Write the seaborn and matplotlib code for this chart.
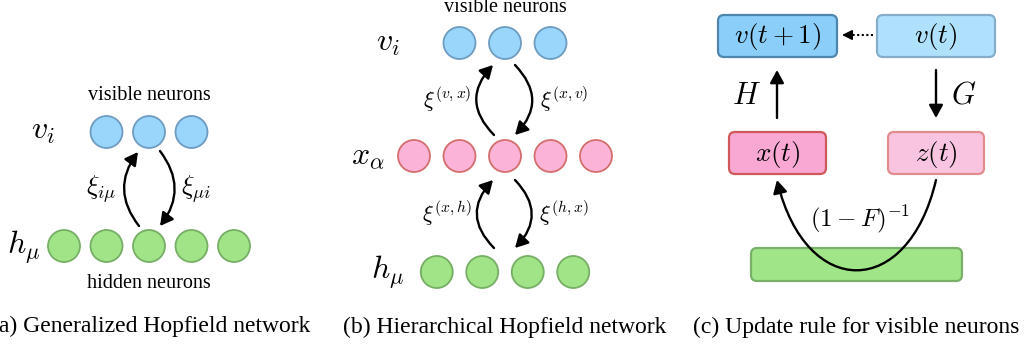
import numpy as np
import matplotlib
matplotlib.use("Agg")
import matplotlib.pyplot as plt
import seaborn as sns
from matplotlib.patches import Circle, FancyBboxPatch, FancyArrowPatch
from matplotlib.path import Path

sns.set_theme(style="white")
plt.rcParams["font.family"] = ["Liberation Serif", "DejaVu Serif"]
plt.rcParams["mathtext.fontset"] = "cm"
plt.rcParams["text.color"] = "black"

# Layer sizes for the two network diagrams
layers_a = [3, 5]            # visible, hidden
layers_b = [3, 5, 4]         # visible, intermediate, hidden
layer_labels_a = [r"$v_i$", r"$h_\mu$"]
layer_labels_b = [r"$v_i$", r"$x_\alpha$", r"$h_\mu$"]
weights_a = [r"$\xi_{i\mu}$", r"$\xi_{\mu i}$"]
weights_b = [[r"$\xi^{(v,x)}$", r"$\xi^{(x,v)}$"], [r"$\xi^{(x,h)}$", r"$\xi^{(h,x)}$"]]
box_labels = [r"$v(t+1)$", r"$v(t)$", r"$x(t)$", r"$z(t)$"]
map_labels = [r"$H$", r"$G$", r"$(1-F)^{-1}$"]
captions = ["(a) Generalized Hopfield network",
            "(b) Hierarchical Hopfield network",
            "(c) Update rule for visible neurons"]

BLUE = ("#9AD5FB", "#6E9CC0")
PINK = ("#FBB3D8", "#D46E6E")
GREEN = ("#A0E487", "#77AE66")

fig = plt.figure(figsize=(10.26, 3.48), dpi=100)
ax = fig.add_axes([0, 0, 1, 1])
ax.set_xlim(0, 1026)
ax.set_ylim(348, 0)
ax.axis("off")

R = 16
LW = 1.7
CAP = 17
SMALL = 14.5
LAYER = 23


def layer(n, xc, y, colors, gap):
    xs = xc + (np.arange(n) - (n - 1) / 2) * gap
    for x in xs:
        ax.add_patch(Circle((x, y), R, facecolor=colors[0], edgecolor=colors[1],
                            lw=1.3, zorder=3))


def curved(p0, p1, rad):
    ax.add_patch(FancyArrowPatch(p0, p1, connectionstyle=f"arc3,rad={rad}",
                                 arrowstyle="-|>,head_length=0.55,head_width=0.3",
                                 mutation_scale=14, lw=LW, color="black",
                                 shrinkA=0, shrinkB=0, zorder=2))


def straight(p0, p1):
    ax.add_patch(FancyArrowPatch(p0, p1, arrowstyle="-|>,head_length=0.55,head_width=0.3",
                                 mutation_scale=14, lw=LW, color="black",
                                 shrinkA=0, shrinkB=0, zorder=2))


# ---- (a) generalized Hopfield network
layer(layers_a[0], 149, 132, BLUE, 42.5)
layer(layers_a[1], 149, 246, GREEN, 42.5)
ax.text(149, 96, "visible neurons", ha="center", va="center", fontsize=SMALL)
ax.text(149, 283, "hidden neurons", ha="center", va="center", fontsize=SMALL)
ax.text(43, 131, layer_labels_a[0], ha="center", va="center", fontsize=LAYER)
ax.text(24, 247, layer_labels_a[1], ha="center", va="center", fontsize=LAYER)
curved((139, 226), (138, 152), -0.38)
curved((160, 151), (160, 226), -0.38)
ax.text(101, 189, weights_a[0], ha="center", va="center", fontsize=19)
ax.text(196, 189, weights_a[1], ha="center", va="center", fontsize=19)
ax.text(151, 326, captions[0], ha="center", va="center", fontsize=CAP)

# ---- (b) hierarchical Hopfield network
layer(layers_b[0], 505, 43, BLUE, 45.5)
layer(layers_b[1], 505, 156, PINK, 45.5)
layer(layers_b[2], 505, 272, GREEN, 45.5)
ax.text(505, 8, "visible neurons", ha="center", va="center", fontsize=SMALL)
for lbl, (x, y) in zip(layer_labels_b, [(388, 44), (368, 158), (388, 272)]):
    ax.text(x, y, lbl, ha="center", va="center", fontsize=LAYER)
for (top, bot), wl in zip([(65, 135), (180, 248)], weights_b):
    curved((494, bot), (493, top), -0.48)
    curved((515, top), (515, bot), -0.48)
    mid = (top + bot) / 2
    ax.text(447, mid, wl[0], ha="center", va="center", fontsize=16)
    ax.text(564, mid, wl[1], ha="center", va="center", fontsize=16)
ax.text(505, 327, captions[1], ha="center", va="center", fontsize=CAP)

# ---- (c) update rule for visible neurons
boxes = [
    (718, 15, 119, 42, "#8CCEFA", "#4E85AC"),
    (877, 15, 118, 42, "#B0E1FC", "#86AECB"),
    (729, 132, 97, 42, "#F9A8D4", "#D0585A"),
    (888, 132, 96, 42, "#F9C4DF", "#E08C8C"),
]
for (x, y, w, h, fc, ec), lbl in zip(boxes, box_labels):
    ax.add_patch(FancyBboxPatch((x, y), w, h, boxstyle="round,pad=0,rounding_size=6",
                                facecolor=fc, edgecolor=ec, lw=1.6, zorder=3))
    ax.text(x + w / 2, y + h / 2 + 1, lbl, ha="center", va="center", fontsize=19.5, zorder=4)

ax.add_patch(FancyBboxPatch((751, 248), 211, 33, boxstyle="round,pad=0,rounding_size=6",
                            facecolor="#A0E588", edgecolor="#7AB16A", lw=1.6, zorder=1))

# dotted copy arrow v(t) -> v(t+1)
ax.plot([873, 846], [35, 35], color="black", lw=1.5, ls=(0, (1, 1.2)), zorder=2)
ax.add_patch(FancyArrowPatch((847, 35), (842, 35), arrowstyle="-|>,head_length=0.5,head_width=0.25",
                             mutation_scale=12, lw=1.2, color="black", shrinkA=0, shrinkB=0))

straight((777, 118), (777, 70))
straight((936, 70), (936, 118))
ax.text(746, 97, map_labels[0], ha="center", va="center", fontsize=22)
ax.text(964, 96, map_labels[1], ha="center", va="center", fontsize=22)

# U-shaped path from z(t) through the hidden layer back up to x(t)
u_path = Path([(936, 180), (908, 300), (806, 300), (777, 180)],
              [Path.MOVETO, Path.CURVE4, Path.CURVE4, Path.CURVE4])
ax.add_patch(FancyArrowPatch(path=u_path, arrowstyle="-|>,head_length=0.55,head_width=0.3",
                             mutation_scale=14, lw=LW, color="black", zorder=2))
ax.text(860, 219, map_labels[2], ha="center", va="center", fontsize=18)
ax.text(856, 327, captions[2], ha="center", va="center", fontsize=CAP)

fig.savefig("out.png", dpi=100)
